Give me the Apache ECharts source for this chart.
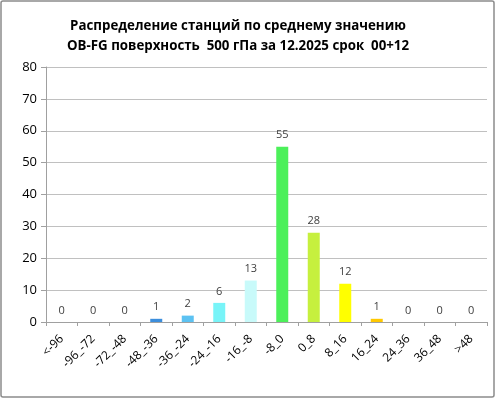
<!DOCTYPE html>
<html>
<head>
<meta charset="utf-8">
<script src="https://cdn.jsdelivr.net/npm/echarts@6/dist/echarts.min.js"></script>
<style>
html,body{margin:0;padding:0;background:#fff;}
#chart{width:496px;height:399px;}
</style>
</head>
<body>
<div id="chart"></div>
<script>
const titleLines = ['Распределение станций по среднему значению', 'OB-FG поверхность  500 гПа за 12.2025 срок  00+12'];
const categories = ['<-96', '-96_-72', '-72_-48', '-48_-36', '-36_-24', '-24_-16', '-16_-8', '-8_0', '0_8', '8_16', '16_24', '24_36', '36_48', '>48'];
const counts = [0, 0, 0, 1, 2, 6, 13, 55, 28, 12, 1, 0, 0, 0];
const yTicks = { min: 0, max: 80, interval: 10 };
const barColors = ['#3c8edc', '#3c8edc', '#3c8edc', '#3c8edc', '#5cc2f2', '#78f4f8', '#c8fafa', '#4cf05a', '#c6f03e', '#ffff00', '#ffc800', '#ffc800', '#ffc800', '#ffc800'];

const chart = echarts.init(document.getElementById('chart'));
chart.setOption({
  backgroundColor: '#fff',
  animation: false,
  graphic: [{
    type: 'rect',
    shape: { x: 1, y: 1, width: 493, height: 396, r: 2 },
    style: { fill: 'none', stroke: '#8c8c8c', lineWidth: 1.5 },
    silent: true
  }],
  title: {
    text: titleLines.join('\n'),
    left: 233,
    textAlign: 'center',
    top: 11,
    textStyle: {
      fontFamily: 'Open Sans',
      fontWeight: 'bold',
      fontSize: 13.3,
      lineHeight: 20,
      color: '#000'
    }
  },
  grid: { left: 46, right: 9, top: 67, bottom: 77 },
  xAxis: {
    type: 'category',
    data: categories,
    axisLine: { lineStyle: { color: '#a0a0a0', width: 1 } },
    axisTick: { show: true, length: 4, lineStyle: { color: '#a0a0a0' } },
    axisLabel: {
      rotate: 45,
      interval: 0,
      fontSize: 12,
      fontFamily: 'Open Sans',
      color: '#000',
      margin: 15
    }
  },
  yAxis: {
    type: 'value',
    min: yTicks.min,
    max: yTicks.max,
    interval: yTicks.interval,
    axisLine: { show: true, lineStyle: { color: '#a0a0a0', width: 1 } },
    axisTick: { show: true, length: 5, lineStyle: { color: '#a0a0a0' } },
    splitLine: { lineStyle: { color: '#c0c0c0', width: 1 } },
    axisLabel: {
      fontSize: 13,
      fontFamily: 'Open Sans',
      color: '#000',
      margin: 9
    }
  },
  series: [{
    type: 'bar',
    barWidth: 12,
    data: counts.map((v, i) => ({ value: v, itemStyle: { color: barColors[i] } })),
    label: {
      show: true,
      position: 'top',
      distance: 6,
      fontSize: 11,
      fontFamily: 'Open Sans',
      color: '#404040'
    }
  }]
});
</script>
</body>
</html>
